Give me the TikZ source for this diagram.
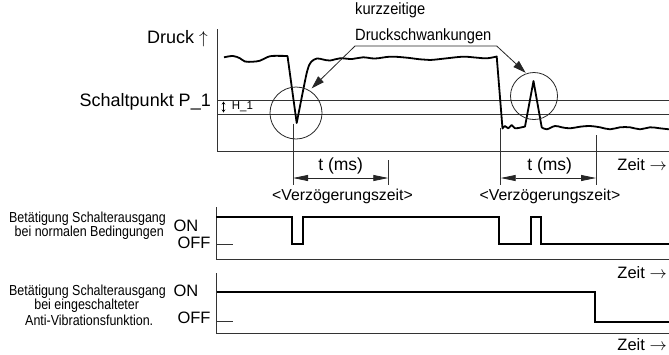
\documentclass[tikz,border=0pt]{standalone}
\usepackage{fontspec}
\setmainfont{Liberation Sans}
\newfontfamily\condA{Liberation Sans}[FakeStretch=0.86]
\newfontfamily\condB{Liberation Sans}[FakeStretch=0.9]
\usetikzlibrary{arrows.meta}
\begin{document}
\begin{tikzpicture}[x=1pt,y=-1pt,
  frameline/.style={line width=0.8pt, draw=black!80},
  curveline/.style={line width=1.8pt, draw=black, line join=round},
  sigline/.style={line width=2.2pt, draw=black, line join=miter},
  dimarrow/.style={line width=0.8pt, draw=black!85, {Triangle[length=15pt,width=6pt]}-{Triangle[length=15pt,width=6pt]}},
  leader/.style={line width=0.8pt, draw=black!85, {Triangle[length=13pt,width=8pt]}-{Triangle[length=13pt,width=8pt]}},
  lbl/.style={inner sep=0pt, font=\fontsize{18}{21}\selectfont},
  mid/.style={inner sep=0pt, font=\fontsize{16.5}{19}\selectfont},
  side/.style={inner sep=0pt, font=\condA\fontsize{14.5}{16}\selectfont},
  every node/.style={inner sep=0pt}]
\useasboundingbox (0,0) rectangle (669,354);

% ---------- top chart frame ----------
\coordinate (axTop) at (217.7,29);
\coordinate (axOrig) at (217.7,151);
\coordinate (axEnd) at (669,151);
\draw[frameline] (axTop) -- (axOrig) -- (axEnd);
\coordinate (spA1) at (217.7,100);
\coordinate (spA2) at (669,100);
\coordinate (spB1) at (217.7,114);
\coordinate (spB2) at (669,114);
\draw[frameline] (spA1) -- (spA2);
\draw[frameline] (spB1) -- (spB2);

\node[lbl, anchor=base east] (druck) at (208,43) {Druck $\uparrow$};
\node[lbl, anchor=base east] (schalt) at (211,106) {Schaltpunkt P\_1};
\coordinate (hA) at (223.5,101.5);
\coordinate (hB) at (223.5,112.5);
\draw[line width=0.7pt, {Stealth[length=3pt,width=3.5pt]}-{Stealth[length=3pt,width=3.5pt]}] (hA) -- (hB);
\node[anchor=base west, font=\fontsize{11.5}{13}\selectfont] (hyst) at (231.7,109.5) {H\_1};

% ---------- pressure curve ----------
\draw[curveline]
  plot[smooth, tension=0.6] coordinates {(224,57.3) (233,56) (240,58.3) (245,61.5) (253,61.7) (260,60.7) (265,58.3) (271.7,56) (287.5,56)}
  -- (296.7,123)
  -- plot[smooth, tension=0.6] coordinates {(296.7,123) (304,86) (307.5,70) (311,62) (317,58.5) (323,59.5) (330,60.5) (340,58.3) (352,59) (363,57.3) (375,58.5) (390,56.7) (405,57.5) (420,59.3) (430,60) (446.7,58.3) (463,56.7) (475,57.5) (486.7,58.3) (496.7,56.5)}
  -- (502.5,128.5)
  -- plot[smooth, tension=0.6] coordinates {(502.5,128.5) (505,126) (508.3,128.3) (511.7,125) (515,128.3) (521.7,127.3) (525,126.5)}
  -- (533.5,81) -- (541.7,127.3)
  -- plot[smooth, tension=0.6] coordinates {(541.7,127.3) (546.7,129.3) (555,126) (561.7,127.3) (570,128.3) (580,126.7) (590,126) (600,127.3) (610,129.3) (620,127.3) (630,127.3) (640,129.3) (650,127.3) (660,128.3) (669,129.3)};

% circles
\node[draw=black!85, line width=0.8pt, circle, minimum size=52pt] (circA) at (296,113) {};
\node[draw=black!85, line width=0.8pt, circle, minimum size=47pt] (circB) at (534,96) {};

% annotation
\node[anchor=base west, font=\condB\fontsize{16.3}{18}\selectfont] (kurz) at (355,14) {kurzzeitige};
\node[anchor=base west, font=\condB\fontsize{16.3}{18}\selectfont] (dsw) at (355,40) {Druckschwankungen};
\coordinate (tipA) at (311.7,88.3);
\coordinate (kneeA) at (355,46);
\coordinate (kneeB) at (496.7,46);
\coordinate (tipB) at (525.7,72.8);
\draw[leader] (tipA) -- (kneeA) -- (kneeB) -- (tipB);

% delay dimension lines
\coordinate (vA1) at (293,123.5);
\coordinate (vA2) at (293,185);
\coordinate (vB1) at (388.3,160);
\coordinate (vB2) at (388.3,185);
\coordinate (vC1) at (500.7,128);
\coordinate (vC2) at (500.7,185);
\coordinate (vD1) at (596,135);
\coordinate (vD2) at (596,185);
\draw[frameline] (vA1) -- (vA2);
\draw[frameline] (vB1) -- (vB2);
\draw[frameline] (vC1) -- (vC2);
\draw[frameline] (vD1) -- (vD2);
\coordinate (dA1) at (293,178);
\coordinate (dA2) at (388.3,178);
\coordinate (dB1) at (500.7,178);
\coordinate (dB2) at (596,178);
\draw[dimarrow] (dA1) -- (dA2);
\draw[dimarrow] (dB1) -- (dB2);
\node[anchor=base, font=\fontsize{17.5}{20}\selectfont] (tmsA) at (340.7,170) {t (ms)};
\node[anchor=base, font=\fontsize{17.5}{20}\selectfont] (tmsB) at (549.7,170) {t (ms)};
\node[mid, anchor=base east] (zeit0) at (667,170) {Zeit $\rightarrow$};
\node[anchor=base, font=\fontsize{15.8}{18}\selectfont] (verzA) at (342.5,200) {<Verzögerungszeit>};
\node[anchor=base, font=\fontsize{15.8}{18}\selectfont] (verzB) at (550,200) {<Verzögerungszeit>};

% ---------- chart 1: normal ----------
\coordinate (c1Top) at (216,207);
\coordinate (c1Orig) at (216,259.3);
\coordinate (c1End) at (669,259.3);
\draw[frameline] (c1Top) -- (c1Orig) -- (c1End);
\coordinate (c1off1) at (216,244);
\coordinate (c1off2) at (233.3,244);
\draw[frameline] (c1off1) -- (c1off2);
\draw[sigline] (216,216.7) -- (292.3,216.7) -- (292.3,244) -- (303.3,244) -- (303.3,216.7)
  -- (499,216.7) -- (499,244) -- (530.7,244) -- (530.7,216.7) -- (541,216.7) -- (541,244) -- (669,244);
\node[mid, anchor=base] (on1) at (186,231.7) {ON};
\node[mid, anchor=base east] (off1) at (210.7,248.3) {OFF};
\node[side, anchor=base] (l1a) at (87.5,222.2) {Betätigung Schalterausgang};
\node[side, anchor=base] (l1b) at (89.2,236.3) {bei normalen Bedingungen};
\node[mid, anchor=base east] (zeit1) at (667,278.3) {Zeit $\rightarrow$};

% ---------- chart 2: anti-vibration ----------
\coordinate (c2Top) at (216.7,273.3);
\coordinate (c2Orig) at (216.7,333.3);
\coordinate (c2End) at (669,333.3);
\draw[frameline] (c2Top) -- (c2Orig) -- (c2End);
\coordinate (c2off1) at (216.7,321.7);
\coordinate (c2off2) at (233.3,321.7);
\draw[frameline] (c2off1) -- (c2off2);
\draw[sigline] (216.7,291.7) -- (595,291.7) -- (595,321.7) -- (669,321.7);
\node[mid, anchor=base] (on2) at (186,296.7) {ON};
\node[mid, anchor=base east] (off2) at (210.7,323.3) {OFF};
\node[side, anchor=base] (l2a) at (87.5,295) {Betätigung Schalterausgang};
\node[side, anchor=base] (l2b) at (86.7,309.5) {bei eingeschalteter};
\node[side, anchor=base] (l2c) at (89.2,325) {Anti-Vibrationsfunktion.};
\node[mid, anchor=base east] (zeit2) at (667,350) {Zeit $\rightarrow$};
\end{tikzpicture}
\end{document}
